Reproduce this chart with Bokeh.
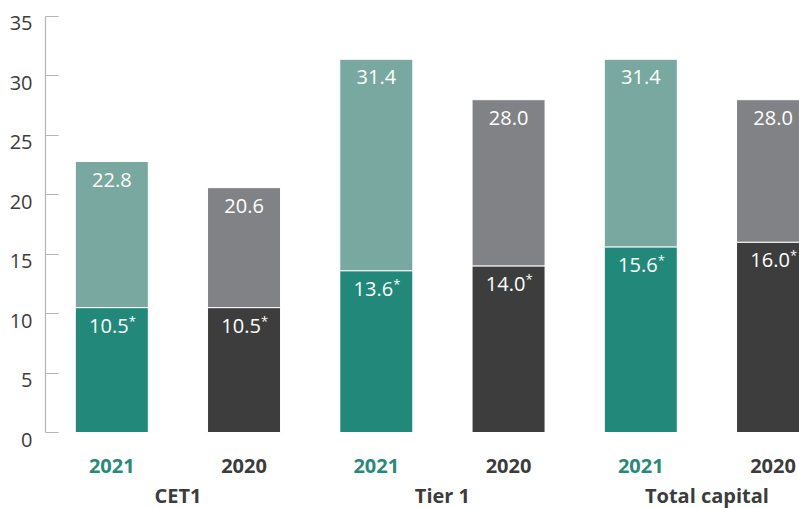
import numpy as np
from bokeh.plotting import figure
from bokeh.models import ColumnDataSource, Range1d, FixedTicker, LinearAxis
from bokeh.core.properties import value
from bokeh.embed import file_html
from bokeh.resources import INLINE

# ---- data ----
groups = ["CET1", "CET1", "Tier 1", "Tier 1", "Total capital", "Total capital"]
years = ["2021", "2020", "2021", "2020", "2021", "2020"]
requirement = [10.5, 10.5, 13.6, 14.0, 15.6, 16.0]
ratio = [22.8, 20.6, 31.4, 28.0, 31.4, 28.0]
group_names = ["CET1", "Tier 1", "Total capital"]
y_ticks = [0, 5, 10, 15, 20, 25, 30, 35]

# ---- styles ----
FONT = "Open Sans"
upper_colors = {"2021": "#79a8a0", "2020": "#818285"}
lower_colors = {"2021": "#22897a", "2020": "#3d3d3d"}
year_colors = {"2021": "#2a8a78", "2020": "#3c3c3c"}

x = np.arange(len(years), dtype=float)
src = ColumnDataSource(dict(
    x=x,
    req=requirement,
    tot=ratio,
    zero=[0] * len(x),
    up_col=[upper_colors[y] for y in years],
    lo_col=[lower_colors[y] for y in years],
    yr_col=[year_colors[y] for y in years],
    year=years,
    tot_lbl=[f"{v:.1f}" for v in ratio],
    req_lbl=[f"{v:.1f}" for v in requirement],
    star=["*"] * len(x),
))

gx = [2 * i + 0.5 for i in range(len(group_names))]
gsrc = ColumnDataSource(dict(x=gx, zero=[0] * len(gx), name=group_names))

Y0, Y1 = -6.394, 36.346
p = figure(width=799, height=508, output_backend="svg", toolbar_location=None,
           x_axis_type=None,
           x_range=Range1d(-0.5013, 5.2), y_range=Range1d(Y0, Y1),
           min_border_left=45, min_border_right=0, min_border_top=0, min_border_bottom=0)
p.outline_line_color = None
p.grid.visible = False
p.background_fill_color = "white"
p.border_fill_color = "white"

W = 0.552
p.vbar(x="x", bottom="req", top="tot", width=W, fill_color="up_col",
       line_color="white", line_width=1, source=src)
p.vbar(x="x", bottom="zero", top="req", width=W, fill_color="lo_col",
       line_color="white", line_width=1, source=src)

p.text(x="x", y="tot", text="tot_lbl", source=src, text_align="center",
       text_baseline="alphabetic", y_offset=18, text_color="white",
       text_font=value(FONT), text_font_size="20px")
p.text(x="x", y="req", text="req_lbl", source=src, text_align="center",
       text_baseline="alphabetic", x_offset=-3, y_offset=18, text_color="white",
       text_font=value(FONT), text_font_size="20px")
p.text(x="x", y="req", text="star", source=src, text_align="left",
       text_baseline="alphabetic", x_offset=17, y_offset=13, text_color="white",
       text_font=value(FONT), text_font_size="13px")

p.text(x="x", y="zero", text="year", source=src, text_align="center",
       text_baseline="alphabetic", y_offset=33, text_color="yr_col",
       text_font=value(FONT), text_font_size="20px", text_font_style="bold")
p.text(x="x", y="zero", text="name", source=gsrc, text_align="center",
       text_baseline="alphabetic", y_offset=63, text_color="#3c3c3c",
       text_font=value(FONT), text_font_size="20px", text_font_style="bold")

# axis line + inward ticks (labels drawn by a second axis)
ax = p.yaxis[0]
ax.bounds = (0, 35)
ax.ticker = FixedTicker(ticks=y_ticks)
ax.minor_tick_line_color = None
ax.major_tick_in = 13
ax.major_tick_out = 0
ax.axis_line_color = "#b4b4b4"
ax.major_tick_line_color = "#b4b4b4"
ax.axis_line_width = 1.2
ax.major_tick_line_width = 1.2
ax.major_label_standoff = 0
ax.major_label_overrides = {t: "" for t in y_ticks}

# labels sit ~7px below their ticks in the reference
shift = 7 / (508 / (Y1 - Y0))
p.extra_y_ranges = {"lbl": Range1d(Y0 + shift, Y1 + shift)}
lab = LinearAxis(y_range_name="lbl", ticker=FixedTicker(ticks=y_ticks))
lab.axis_line_color = None
lab.major_tick_line_color = None
lab.minor_tick_line_color = None
lab.major_tick_in = 0
lab.major_tick_out = 0
lab.major_label_standoff = 13
lab.major_label_text_font = FONT
lab.major_label_text_font_size = "20px"
lab.major_label_text_color = "#3c3c3c"
p.add_layout(lab, "left")

open("out.html", "w").write(file_html(p, INLINE))
